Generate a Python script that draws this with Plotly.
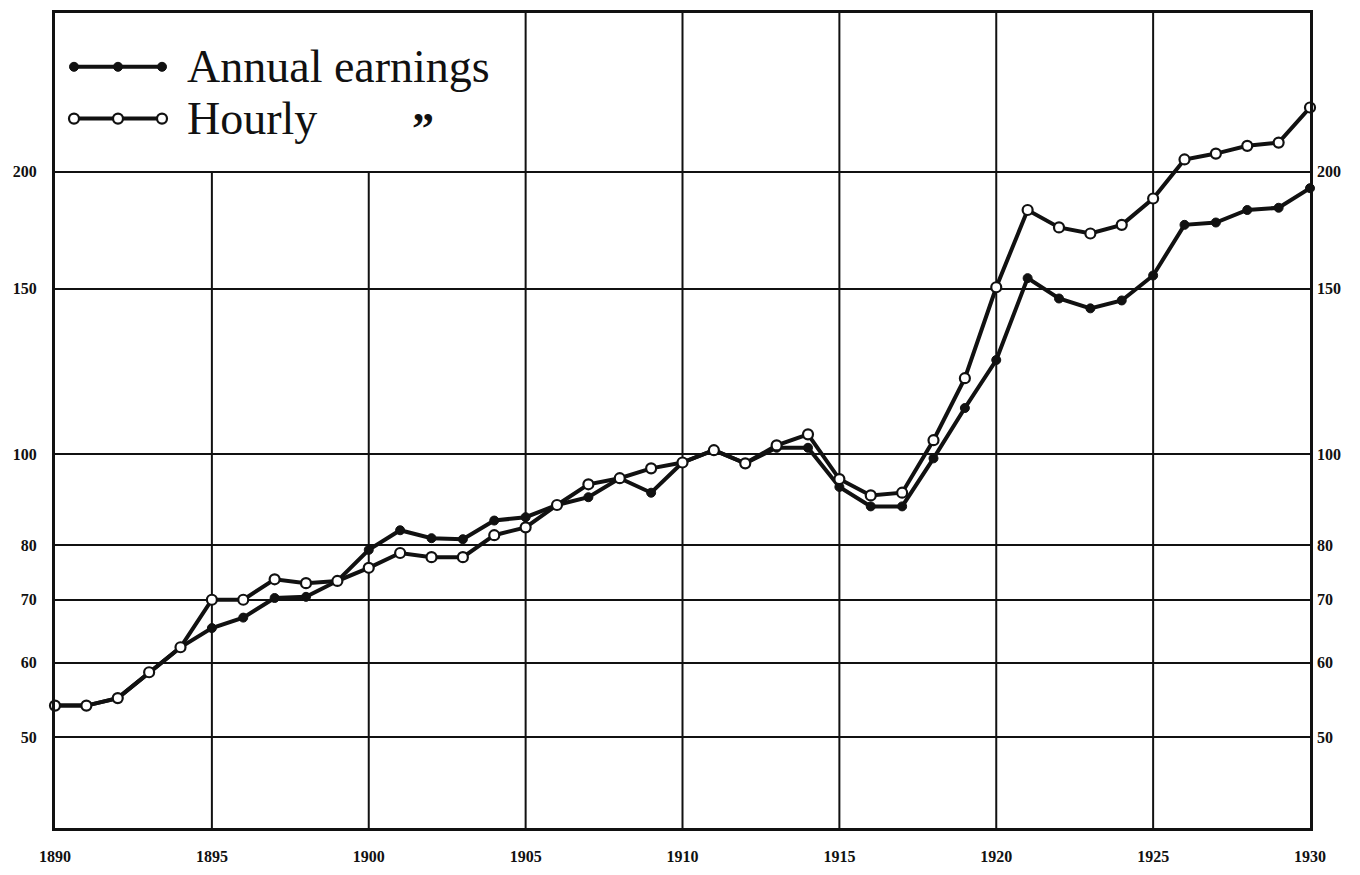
import numpy as np
import plotly.graph_objects as go

# index numbers, 1890-1930 (log scale)
YEARS = list(range(1890, 1931))
ANNUAL = [54, 54, 55, 58.6, 62.3, 65.3, 67, 70.3, 70.5, 73.3,
          79.1, 83, 81.4, 81.2, 85, 85.7, 88.3, 90, 94.3, 91,
          98, 101, 97.8, 101.6, 101.6, 92.3, 88, 88, 99, 112,
          126, 154, 146.5, 143, 145.8, 155, 175.5, 176.5, 182, 183,
          192]
HOURLY = [54, 54, 55, 58.6, 62.3, 70, 70, 73.6, 72.9, 73.3,
          75.7, 78.5, 77.7, 77.7, 82, 83.6, 88.3, 92.9, 94.3, 96.6,
          98, 101, 97.8, 102.2, 105, 94.1, 90.4, 91, 103.5, 120.5,
          150.6, 182, 174.4, 171.8, 175.5, 187.2, 206, 209, 213, 214.7,
          234]
Y_TICKS = [50, 60, 70, 80, 100, 150, 200]
X_TICKS = list(range(1890, 1931, 5))
KEY_LABELS = ["Annual earnings", "Hourly"]

INK = "#111111"
Y_MIN, Y_MAX = 40, 295
Y_RANGE = [np.log10(Y_MIN), np.log10(Y_MAX)]
TICK_FONT = dict(family="Liberation Serif", size=16, color=INK, weight="bold")

# plot box in page pixels (page body has an 8px margin)
W, H = 1352, 867
L, R, T, B = 47, 50, 2, 47
PW, PH = W - L - R, H - T - B


def px2paper(px, py):
    # page pixel -> paper fraction
    return (px - 8 - L) / PW, 1 - (py - 8 - T) / PH


fig = go.Figure()
fig.add_trace(go.Scatter(
    x=YEARS, y=ANNUAL, mode="lines+markers", name=KEY_LABELS[0],
    line=dict(color=INK, width=4),
    marker=dict(color=INK, size=9, line=dict(color=INK, width=1)),
    cliponaxis=False, showlegend=False,
))
fig.add_trace(go.Scatter(
    x=YEARS, y=HOURLY, mode="lines+markers", name=KEY_LABELS[1],
    line=dict(color=INK, width=4),
    marker=dict(color="white", size=10, line=dict(color=INK, width=2.2)),
    cliponaxis=False, showlegend=False,
))
# carries the right-hand scale
fig.add_trace(go.Scatter(x=YEARS, y=ANNUAL, yaxis="y2", mode="lines",
                         line=dict(width=0), opacity=0, showlegend=False, hoverinfo="skip"))

# vertical rules; the two left of 1905 stop at the 200 line to leave room for the key
shapes = []
for yr in X_TICKS[1:-1]:
    top = 200 if yr < 1905 else Y_MAX
    shapes.append(dict(type="line", xref="x", yref="y", x0=yr, x1=yr, y0=Y_MIN, y1=top,
                       line=dict(color=INK, width=2), layer="below"))

# hand-drawn key: line with three dots, then the label
annotations = []
for row, (py, filled) in enumerate([(64, True), (116, False)]):
    xa, ya = px2paper(74, py)
    xb, _ = px2paper(162, py)
    shapes.append(dict(type="line", xref="paper", yref="paper", x0=xa, x1=xb, y0=ya, y1=ya,
                       line=dict(color=INK, width=4)))
    for dx in (74, 118, 162):
        cx, cy = px2paper(dx, py)
        r = 4.5 if filled else 5
        shapes.append(dict(type="circle", xref="paper", yref="paper",
                           xsizemode="pixel", ysizemode="pixel", xanchor=cx, yanchor=cy,
                           x0=-r, x1=r, y0=-r, y1=r,
                           fillcolor=INK if filled else "white",
                           line=dict(color=INK, width=1 if filled else 2.2)))
    tx, ty = px2paper(185, py)
    annotations.append(dict(xref="paper", yref="paper", x=tx, y=ty, xanchor="left", yanchor="middle",
                            text=KEY_LABELS[row], showarrow=False,
                            font=dict(family="Liberation Serif", size=46, color=INK)))
# ditto mark under "earnings"
dx_, dy_ = px2paper(423, 126)
annotations.append(dict(xref="paper", yref="paper", x=dx_, y=dy_, xanchor="center", yanchor="middle",
                        text="\u201d", showarrow=False,
                        font=dict(family="Liberation Serif", size=44, color=INK, weight="bold")))

fig.update_layout(
    width=W, height=H,
    margin=dict(l=L, r=R, t=T, b=B),
    paper_bgcolor="white", plot_bgcolor="white",
    shapes=shapes, annotations=annotations,
    showlegend=False,
    xaxis=dict(range=[1890, 1930], tickvals=X_TICKS, showgrid=False, zeroline=False,
               showline=True, linecolor=INK, linewidth=3, mirror=True,
               ticks="", ticklabelstandoff=12, tickfont=TICK_FONT),
    yaxis=dict(type="log", range=Y_RANGE, tickvals=Y_TICKS, ticktext=[str(v) for v in Y_TICKS],
               showgrid=True, gridcolor=INK, gridwidth=2, zeroline=False,
               showline=True, linecolor=INK, linewidth=3, mirror=True,
               ticks="", ticklabelstandoff=12, tickfont=TICK_FONT),
    yaxis2=dict(type="log", range=Y_RANGE, tickvals=Y_TICKS, ticktext=[str(v) for v in Y_TICKS],
                overlaying="y", side="right", showgrid=False, zeroline=False,
                showline=False, ticks="", ticklabelstandoff=6, tickfont=TICK_FONT),
)

fig.write_html("out.html")
